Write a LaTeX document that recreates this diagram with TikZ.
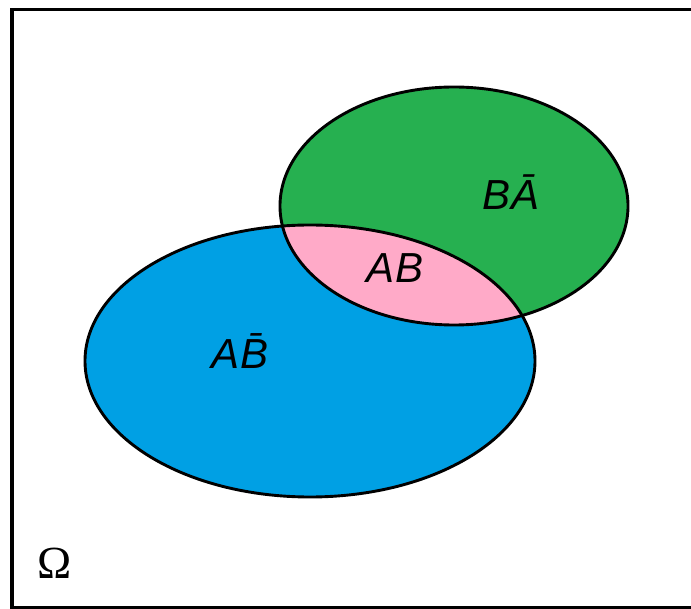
\documentclass[tikz,border=0pt]{standalone}
\usepackage{fontspec}
\setmainfont{Liberation Sans}
\newfontfamily\omegafont{Liberation Serif}
\definecolor{setA}{RGB}{0,160,228}
\definecolor{setB}{RGB}{38,176,80}
\definecolor{setAB}{RGB}{255,170,200}
\tikzset{
  outline/.style={draw=black, line width=2.9pt},
  setlabel/.style={font=\fontsize{42}{46}\selectfont\itshape, inner sep=0pt}
}
\begin{document}
\begin{tikzpicture}[x=1pt,y=-1pt]
  \useasboundingbox (0,0) rectangle (691,609);
  \clip (0,0) rectangle (691,609);
  % sample space frame
  \draw[line width=3.5pt] (12,9.5) rectangle (720,607.5);
  % the two events
  \fill[setA] (310,361) ellipse [x radius=225, y radius=136];
  \fill[setB] (454,206) ellipse [x radius=174, y radius=119];
  \begin{scope}
    \clip (310,361) ellipse [x radius=225, y radius=136];
    \fill[setAB] (454,206) ellipse [x radius=174, y radius=119];
  \end{scope}
  \draw[outline] (310,361) ellipse [x radius=225, y radius=136];
  \draw[outline] (454,206) ellipse [x radius=174, y radius=119];
  % labels
  \node[setlabel] (lAnB) at (240,351) {A\=B};
  \node[setlabel] (lAB) at (395,268) {AB};
  \node[setlabel] (lBnA) at (511,192) {B\=A};
  \node[font=\omegafont\fontsize{46}{50}\selectfont, inner sep=0pt] (omega) at (55,563) {Ω};
\end{tikzpicture}
\end{document}
